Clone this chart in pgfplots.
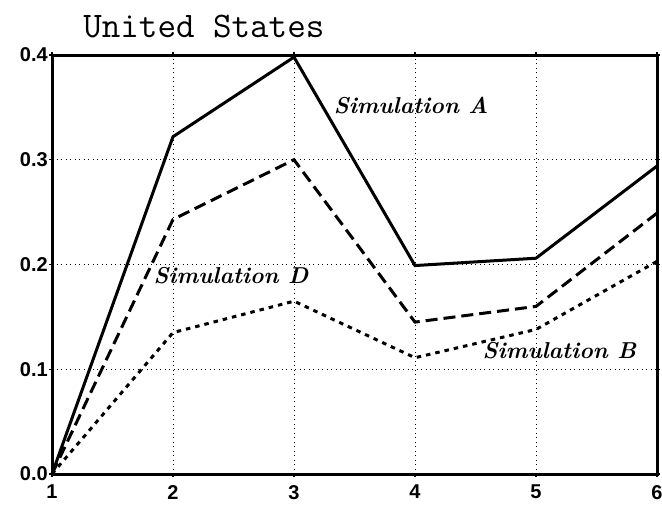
\documentclass[border=0pt]{standalone}
\usepackage{fontspec}
\setsansfont{Liberation Sans}
\usepackage{pgfplots}
\pgfplotsset{compat=1.18}
\begin{document}
\begin{tikzpicture}[x=1pt,y=1pt]
\path[use as bounding box] (-52,-33) rectangle (610,474);
\begin{axis}[
  scale only axis,
  width=605pt, height=419pt,
  at={(0,0)}, anchor=south west,
  xmin=1, xmax=6, ymin=0, ymax=0.4,
  xtick={1,2,3,4,5,6},
  ytick={0,0.1,0.2,0.3,0.4},
  /pgf/number format/assume math mode=true,
  tick label style={font=\fontsize{20}{24}\selectfont\sffamily\bfseries},
  yticklabel style={/pgf/number format/fixed,/pgf/number format/precision=1,/pgf/number format/fixed zerofill, inner sep=1pt},
  xticklabel style={inner sep=1pt, yshift=-7pt},
  tick style={black, line width=1.2pt},
  tick align=outside,
  major tick length=3pt,
  axis line style={line width=3pt},
  grid=major,
  grid style={black, line width=1pt, dash pattern=on 1pt off 3.5pt},
  clip=false,
]
\addplot[black, line width=3pt] coordinates {(1,0) (2,0.322) (3,0.398) (4,0.199) (5,0.206) (6,0.294)};
\addplot[black, line width=3pt, dash pattern=on 12pt off 6pt] coordinates {(1,0) (2,0.243) (3,0.300) (4,0.145) (5,0.160) (6,0.249)};
\addplot[black, line width=3pt, dash pattern=on 4.5pt off 5pt] coordinates {(1,0) (2,0.135) (3,0.165) (4,0.111) (5,0.138) (6,0.203)};
\node[anchor=west, font=\fontsize{23}{26}\selectfont\bfseries\itshape] at (axis cs:3.3,0.352) {Simulation A};
\node[anchor=west, font=\fontsize{23}{26}\selectfont\bfseries\itshape] at (axis cs:1.81,0.189) {Simulation D};
\node[anchor=west, font=\fontsize{23}{26}\selectfont\bfseries\itshape] at (axis cs:4.53,0.118) {Simulation B};
\node[anchor=base west, font=\fontsize{36}{42}\selectfont\ttfamily] at (axis cs:1.23,0.417) {United States};
\end{axis}
\end{tikzpicture}
\end{document}
